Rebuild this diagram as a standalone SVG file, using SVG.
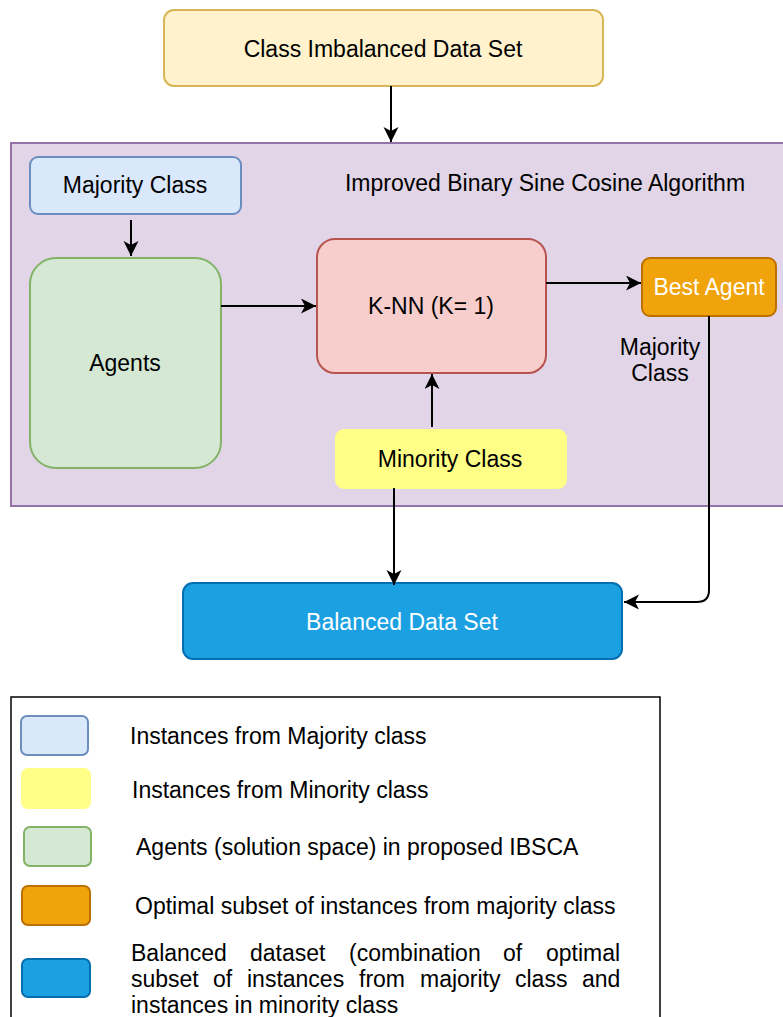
<svg xmlns="http://www.w3.org/2000/svg" width="783" height="1017" viewBox="0 0 783 1017">
<style>
text{font-family:"Liberation Sans",Arial,sans-serif;font-size:23px;fill:#000}
.c{text-anchor:middle}
.w{fill:#fff}
.conn{fill:none;stroke:#000;stroke-width:2}
</style>
<defs>
<marker id="ah" markerUnits="userSpaceOnUse" markerWidth="16" markerHeight="16" refX="15" refY="7.5" orient="auto">
<path d="M0,0 L15,7.5 L0,15 L4,7.5 z" fill="#000"/>
</marker>
</defs>
<rect width="783" height="1017" fill="#fff"/>
<g id="container">
<rect x="11" y="143" width="790" height="363" fill="#e1d5e7" stroke="#9673a6" stroke-width="2"/>
<text x="545" y="191" class="c">Improved Binary Sine Cosine Algorithm</text>
</g>
<g id="imbalanced">
<rect x="164" y="10" width="439" height="76" rx="10" fill="#fff2cc" stroke="#d6b656" stroke-width="2"/>
<text x="383" y="57" class="c">Class Imbalanced Data Set</text>
</g>
<g id="majority">
<rect x="30" y="157" width="211" height="57" rx="8" fill="#dae8fc" stroke="#6c8ebf" stroke-width="2"/>
<text x="135" y="193" class="c">Majority Class</text>
</g>
<g id="agents">
<rect x="30" y="258" width="191" height="210" rx="26" fill="#d5e8d4" stroke="#82b366" stroke-width="2"/>
<text x="125" y="371" class="c">Agents</text>
</g>
<g id="knn">
<rect x="317" y="239" width="229" height="134" rx="18" fill="#f8cecc" stroke="#b85450" stroke-width="2"/>
<text x="431" y="314" class="c">K-NN (K= 1)</text>
</g>
<g id="bestagent">
<rect x="642" y="258" width="134" height="58" rx="8" fill="#f0a30a" stroke="#bd7000" stroke-width="2"/>
<text x="709" y="295" class="c w">Best Agent</text>
</g>
<g id="minority">
<rect x="336" y="430" width="230" height="58" rx="8" fill="#ffff88" stroke="#ffff88" stroke-width="2"/>
<text x="450" y="467" class="c">Minority Class</text>
</g>
<g id="balanced">
<rect x="183" y="583" width="439" height="76" rx="10" fill="#1ba1e2" stroke="#006eaf" stroke-width="2"/>
<text x="402" y="630" class="c w">Balanced Data Set</text>
</g>
<g id="connectors">
<path class="conn" d="M391,86 L391,142" marker-end="url(#ah)"/>
<path class="conn" d="M131,220 L131,256" marker-end="url(#ah)"/>
<path class="conn" d="M221,306 L316,306" marker-end="url(#ah)"/>
<path class="conn" d="M546,283 L641,283" marker-end="url(#ah)"/>
<path class="conn" d="M432,427 L432,374" marker-end="url(#ah)"/>
<path class="conn" d="M394,488 L394,585" marker-end="url(#ah)"/>
<path class="conn" d="M709,316 L709,590 Q709,602 697,602 L624,602" marker-end="url(#ah)"/>
<text x="660" y="355" class="c">Majority</text>
<text x="660" y="381" class="c">Class</text>
</g>
<g id="legend">
<rect x="11" y="697" width="649" height="330" fill="#fff" stroke="#000" stroke-width="1.5"/>
<rect x="21" y="716" width="67" height="39" rx="6" fill="#dae8fc" stroke="#6c8ebf" stroke-width="2"/>
<text x="130" y="744">Instances from Majority class</text>
<rect x="22" y="769" width="68" height="39" rx="6" fill="#ffff88" stroke="#ffff88" stroke-width="2"/>
<text x="132" y="798">Instances from Minority class</text>
<rect x="24" y="827" width="67" height="39" rx="6" fill="#d5e8d4" stroke="#82b366" stroke-width="2"/>
<text x="136" y="855">Agents (solution space) in proposed IBSCA</text>
<rect x="22" y="886" width="68" height="39" rx="6" fill="#f0a30a" stroke="#bd7000" stroke-width="2"/>
<text x="135" y="914">Optimal subset of instances from majority class</text>
<rect x="22" y="959" width="68" height="38" rx="6" fill="#1ba1e2" stroke="#006eaf" stroke-width="2"/>
<text y="961"><tspan x="131">Balanced</tspan><tspan x="250">dataset</tspan><tspan x="349">(combination</tspan><tspan x="503">of</tspan><tspan x="546">optimal</tspan></text>
<text y="987"><tspan x="131">subset</tspan><tspan x="213">of</tspan><tspan x="247">instances</tspan><tspan x="359">from</tspan><tspan x="420">majority</tspan><tspan x="515">class</tspan><tspan x="582">and</tspan></text>
<text x="131" y="1013">instances in minority class</text>
</g>
</svg>
